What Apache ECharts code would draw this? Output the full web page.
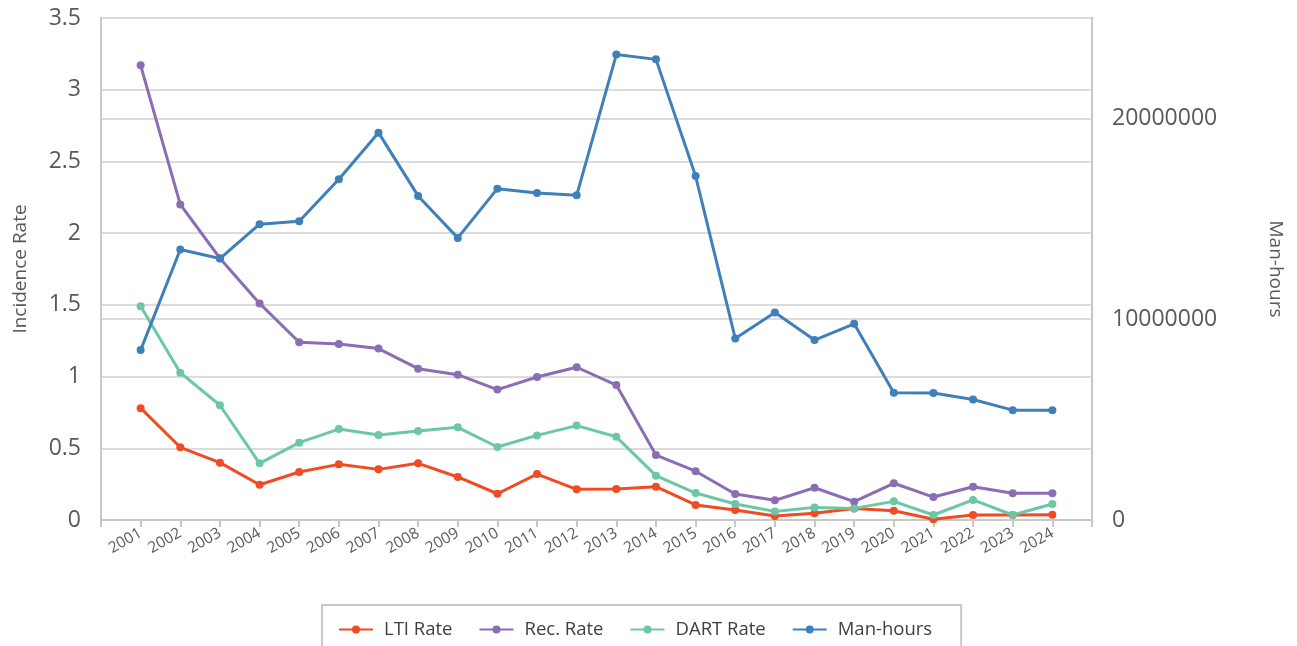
<!DOCTYPE html>
<html>
<head>
<meta charset="utf-8">
<title>Incidence Rate vs Man-hours</title>
<script src="https://cdn.jsdelivr.net/npm/echarts@6/dist/echarts.min.js"></script>
<style>
  html, body { margin: 0; padding: 0; background: #fff; }
  #chart { width: 1297px; height: 646px; }
</style>
</head>
<body>
<div id="chart"></div>
<script>
// ==================== 数据 ====================

var years = [2001, 2002, 2003, 2004, 2005, 2006, 2007, 2008, 2009, 2010, 2011, 2012,
  2013, 2014, 2015, 2016, 2017, 2018, 2019, 2020, 2021, 2022, 2023, 2024];

var ltiRate = [0.78, 0.507, 0.40, 0.246, 0.335, 0.388, 0.353, 0.395, 0.30, 0.183, 0.32, 0.214,
  0.216, 0.232, 0.105, 0.07, 0.028, 0.047, 0.08, 0.065, 0.005, 0.035, 0.035, 0.037];

var recRate = [3.17, 2.20, 1.825, 1.51, 1.239, 1.227, 1.195, 1.055, 1.013, 0.909, 0.997, 1.065,
  0.941, 0.453, 0.34, 0.181, 0.137, 0.225, 0.128, 0.256, 0.16, 0.232, 0.186, 0.186];

var dartRate = [1.49, 1.027, 0.80, 0.395, 0.539, 0.634, 0.593, 0.62, 0.646, 0.509, 0.59, 0.658,
  0.58, 0.309, 0.188, 0.112, 0.06, 0.088, 0.081, 0.13, 0.035, 0.14, 0.035, 0.112];

var manHours = [8460000, 13470000, 13020000, 14730000, 14880000, 16970000, 19290000, 16140000,
  14050000, 16500000, 16290000, 16170000, 23180000, 22940000, 17130000, 9040000, 10330000,
  8960000, 9770000, 6340000, 6320000, 6000000, 5470000, 5470000];

// ==================== 样式 ====================

var labelColor = '#595959';
var lineGray = '#c8c8c8';
var gridGray = '#dcdcdc';
var font = '"Open Sans", "Noto Sans", sans-serif';

function pairs(values) {
  return years.map(function (y, i) { return [y, values[i]]; });
}

function lineSeries(name, color, values, axisIndex) {
  return {
    name: name,
    type: 'line',
    yAxisIndex: axisIndex,
    data: pairs(values),
    symbol: 'circle',
    symbolSize: 8,
    lineStyle: { color: color, width: 3 },
    itemStyle: { color: color },
    emphasis: { disabled: true }
  };
}

var chart = echarts.init(document.getElementById('chart'));

chart.setOption({
  animation: false,
  textStyle: { fontFamily: font },
  grid: {
    left: 101, right: 205, top: 18, bottom: 126,
    show: true, borderColor: lineGray, borderWidth: 2
  },
  legend: {
    left: 322,
    top: 605,
    padding: [15, 29, 20, 16],
    borderColor: lineGray,
    borderWidth: 2,
    itemWidth: 34,
    itemHeight: 10,
    itemGap: 26,
    textStyle: { fontFamily: font, fontSize: 18.5, color: '#404040', padding: [0, 0, 0, 6] },
    data: ['LTI Rate', 'Rec. Rate', 'DART Rate', 'Man-hours']
  },
  xAxis: {
    type: 'value',
    min: 2000,
    max: 2025,
    interval: 1,
    axisLine: { lineStyle: { color: lineGray, width: 2 } },
    axisTick: { show: true, length: 7, lineStyle: { color: lineGray, width: 2 } },
    splitLine: { show: false },
    axisLabel: {
      rotate: 30,
      margin: 12,
      fontSize: 15.5,
      color: labelColor,
      fontFamily: font,
      formatter: function (v) {
        return (v < 2001 || v > 2024) ? '' : String(v);
      }
    }
  },
  yAxis: [
    {
      type: 'value',
      min: 0,
      max: 3.5,
      interval: 0.5,
      name: 'Incidence Rate',
      nameLocation: 'middle',
      nameRotate: 90,
      nameGap: 71,
      nameTextStyle: { fontSize: 19, color: labelColor, fontFamily: font },
      axisLine: { show: true, lineStyle: { color: lineGray, width: 2 } },
      axisTick: { show: false },
      splitLine: { lineStyle: { color: gridGray, width: 2 } },
      axisLabel: { fontSize: 23, color: labelColor, margin: 20, fontFamily: font }
    },
    {
      type: 'value',
      min: 0,
      max: 25000000,
      interval: 10000000,
      name: 'Man-hours',
      nameLocation: 'middle',
      nameRotate: -90,
      nameGap: 174,
      nameTextStyle: { fontSize: 19, color: labelColor, fontFamily: font },
      axisLine: { show: true, lineStyle: { color: lineGray, width: 2 } },
      axisTick: { show: false },
      splitLine: { show: true, lineStyle: { color: gridGray, width: 2 } },
      axisLabel: {
        fontSize: 23, color: labelColor, margin: 20, fontFamily: font,
        showMaxLabel: false,
        formatter: function (v) { return String(v); }
      }
    }
  ],
  series: [
    lineSeries('LTI Rate', '#f04b23', ltiRate, 0),
    lineSeries('Rec. Rate', '#8a6db3', recRate, 0),
    lineSeries('DART Rate', '#6cc7a5', dartRate, 0),
    lineSeries('Man-hours', '#3f80ba', manHours, 1)
  ]
});
</script>
</body>
</html>
